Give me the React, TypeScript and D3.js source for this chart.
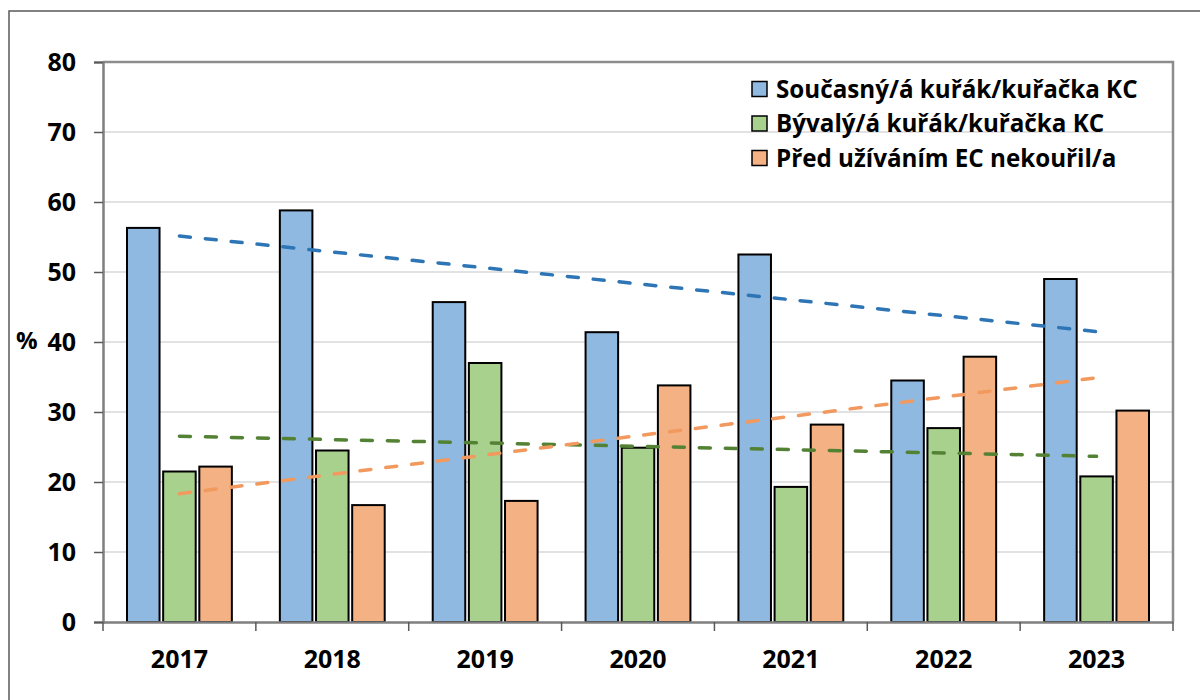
import { useEffect, useRef } from 'react'
import * as d3 from 'd3'

const W = 1200, H = 700
const LEFT = 103, RIGHT = 1173, TOP = 62, BOTTOM = 622

const years = ['2017', '2018', '2019', '2020', '2021', '2022', '2023']
const seriesNames = [
  'Současný/á kuřák/kuřačka KC',
  'Bývalý/á kuřák/kuřačka KC',
  'Před užíváním EC nekouřil/a',
]
const current = [56.3, 58.8, 45.7, 41.4, 52.5, 34.5, 49.0]
const former = [21.5, 24.5, 37.0, 24.9, 19.3, 27.7, 20.8]
const never = [22.2, 16.7, 17.3, 33.8, 28.2, 37.9, 30.2]
const yTicks = [0, 10, 20, 30, 40, 50, 60, 70, 80]

const fills = ['#8fb9e1', '#a9d18e', '#f4b183']
const trendColors = ['#2e75b6', '#548235', '#f1995e']
const FONT = '"Open Sans", Lato, sans-serif'

// least squares line over year index
function trend(vals: number[]) {
  const n = vals.length
  const mx = d3.mean(vals, (_, i) => i) as number
  const my = d3.mean(vals) as number
  let num = 0, den = 0
  vals.forEach((v, i) => { num += (i - mx) * (v - my); den += (i - mx) ** 2 })
  const b = num / den
  const a = my - b * mx
  return [0, n - 1].map(i => ({ i, v: a + b * i }))
}

export default function App() {
  const ref = useRef<SVGSVGElement>(null)

  useEffect(() => {
    if (!ref.current) return
    const svg = d3.select(ref.current)
    svg.selectAll('*').remove()

    const data = [current, former, never]
    const x0 = d3.scaleBand().domain(years).range([LEFT, RIGHT])
    const x1 = d3.scaleBand().domain(seriesNames)
      .range([24, x0.bandwidth() - 24]).paddingInner(0.1)
    const y = d3.scaleLinear().domain([0, 80]).range([BOTTOM, TOP])

    svg.append('rect').attr('width', W).attr('height', H).attr('fill', '#fff')

    // outer frame
    svg.append('rect')
      .attr('x', 9).attr('y', 11).attr('width', W + 10).attr('height', H + 10)
      .attr('fill', 'none').attr('stroke', '#595959').attr('stroke-width', 1.5)

    // gridlines
    svg.append('g').selectAll('line').data(yTicks.filter(t => t > 0 && t < 80)).join('line')
      .attr('x1', LEFT).attr('x2', RIGHT)
      .attr('y1', d => y(d)).attr('y2', d => y(d))
      .attr('stroke', '#d9d9d9').attr('stroke-width', 1.5)

    // plot border top/right
    svg.append('path')
      .attr('d', `M${LEFT},${TOP}H${RIGHT}V${BOTTOM}`)
      .attr('fill', 'none').attr('stroke', '#8c8c8c').attr('stroke-width', 2.5)

    // bars
    data.forEach((vals, s) => {
      svg.append('g').selectAll('rect').data(vals).join('rect')
        .attr('x', (_, i) => (x0(years[i]) as number) + (x1(seriesNames[s]) as number))
        .attr('width', x1.bandwidth())
        .attr('y', d => y(d))
        .attr('height', d => y(0) - y(d))
        .attr('fill', fills[s])
        .attr('stroke', '#000').attr('stroke-width', 2)
    })

    // axes
    const yAxis = svg.append('g').attr('transform', `translate(${LEFT},0)`)
      .call(d3.axisLeft(y).tickValues(yTicks).tickSize(9).tickPadding(18))
    yAxis.select('.domain').attr('stroke', '#7f7f7f').attr('stroke-width', 2.5)
    yAxis.selectAll('.tick line').attr('stroke', '#595959').attr('stroke-width', 1.5)
    yAxis.selectAll('.tick text')
      .attr('font-family', FONT).attr('font-size', 25).attr('font-weight', 700).attr('fill', '#000')

    const xAxis = svg.append('g').attr('transform', `translate(0,${BOTTOM})`)
      .call(d3.axisBottom(x0).tickSize(0).tickPadding(28))
    xAxis.select('.domain').attr('stroke', '#7f7f7f').attr('stroke-width', 2.5)
    xAxis.selectAll('.tick text')
      .attr('font-family', FONT).attr('font-size', 25).attr('font-weight', 700).attr('fill', '#000')
    // category separators
    const bounds = years.map(yr => x0(yr) as number).concat([RIGHT])
    xAxis.append('g').selectAll('line').data(bounds).join('line')
      .attr('x1', d => d).attr('x2', d => d).attr('y1', 0).attr('y2', 9)
      .attr('stroke', '#595959').attr('stroke-width', 1.5)

    // y label
    svg.append('text').attr('x', 16).attr('y', 349)
      .attr('font-family', FONT).attr('font-size', 24).attr('font-weight', 700)
      .text('%')

    // trendlines
    const line = d3.line<{ i: number; v: number }>()
      .x(d => (x0(years[d.i]) as number) + x0.bandwidth() / 2)
      .y(d => y(d.v))
    data.forEach((vals, s) => {
      svg.append('path').attr('d', line(trend(vals)))
        .attr('fill', 'none').attr('stroke', trendColors[s])
        .attr('stroke-width', 3.5).attr('stroke-linecap', 'round')
        .attr('stroke-dasharray', '11,15')
    })

    // legend
    const lg = svg.append('g').attr('transform', 'translate(752,89)')
    seriesNames.forEach((name, s) => {
      const row = lg.append('g').attr('transform', `translate(0,${s * 34.5})`)
      row.append('rect').attr('x', 0).attr('y', -7.5).attr('width', 15).attr('height', 15)
        .attr('fill', fills[s]).attr('stroke', '#000').attr('stroke-width', 1.5)
      row.append('text').attr('x', 24).attr('y', 0).attr('dy', '0.36em')
        .attr('font-family', FONT).attr('font-size', 24.2).attr('font-weight', 700)
        .text(name)
    })
  }, [])

  return <svg ref={ref} width={W} height={H} style={{ position: 'absolute', left: 0, top: 0 }} />
}
